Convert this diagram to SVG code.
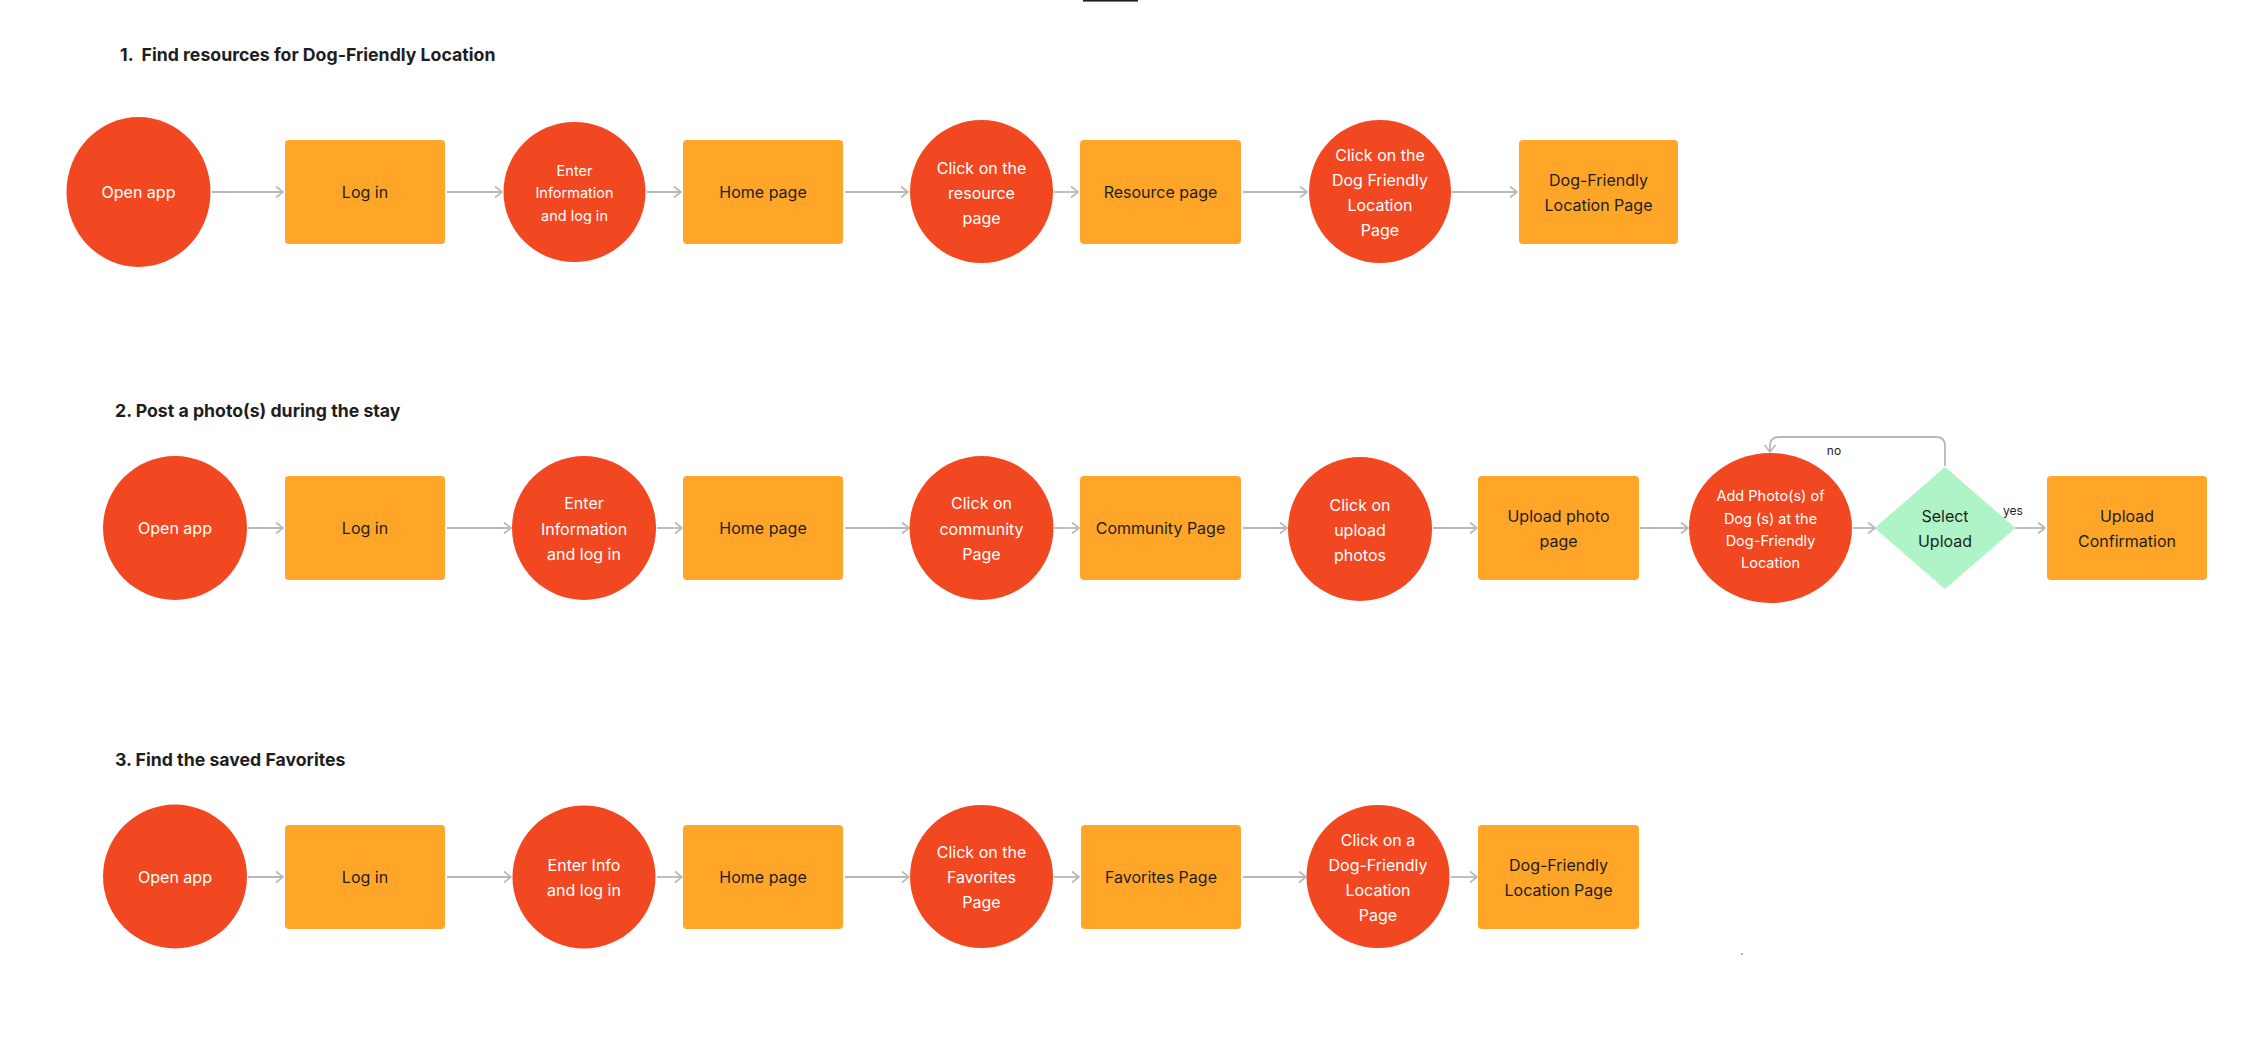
<svg xmlns="http://www.w3.org/2000/svg" width="2248" height="1062" viewBox="0 0 2248 1062">
  <defs>
    <style>
      .bg { fill: #ffffff; }
      .step { fill: #F24822; }
      .page { fill: #FFA629; }
      .decision { fill: #AFF4C6; stroke: #AFF4C6; stroke-width: 3; stroke-linejoin: round; }
      .conn { fill: none; stroke: #B8B8B8; stroke-width: 1.8; }
      text { font-family: Inter, "Liberation Sans", sans-serif; text-anchor: middle; dominant-baseline: central; }
      .wt { fill: #ffffff; font-size: 16px; }
      .wts { fill: #ffffff; font-size: 14.5px; }
      .dt { fill: #1E1E1E; font-size: 16px; }
      .lbl { fill: #1E1E1E; font-size: 12px; }
      .title { fill: #1E1E1E; font-size: 17.7px; font-weight: 700; text-anchor: start; dominant-baseline: alphabetic; }
    </style>
    <marker id="arrow" markerUnits="userSpaceOnUse" markerWidth="12" markerHeight="14" refX="9" refY="7" orient="auto">
      <path d="M2,1.5 L9,7 L2,12.5" fill="none" stroke="#B8B8B8" stroke-width="1.6"/>
    </marker>
  </defs>
  <rect class="bg" x="0" y="0" width="2248" height="1062"/>
  <rect x="1083" y="0" width="55" height="1.6" fill="#1E1E1E"/>
  <circle cx="1742" cy="954" r="1" fill="#9A9A9A"/>

  <!-- Titles -->
  <g id="title-1"><text class="title" x="120" y="61">1.<tspan dx="8">Find resources for Dog-Friendly Location</tspan></text></g>
  <g id="title-2"><text class="title" x="115" y="417">2. Post a photo(s) during the stay</text></g>
  <g id="title-3"><text class="title" x="115" y="766">3. Find the saved Favorites</text></g>

  <!-- Connectors -->
  <g id="connectors">
    <!-- row 1 -->
    <line class="conn" x1="212" y1="192" x2="283" y2="192" marker-end="url(#arrow)"/>
    <line class="conn" x1="447" y1="192" x2="502" y2="192" marker-end="url(#arrow)"/>
    <line class="conn" x1="647" y1="192" x2="681" y2="192" marker-end="url(#arrow)"/>
    <line class="conn" x1="845" y1="192" x2="908" y2="192" marker-end="url(#arrow)"/>
    <line class="conn" x1="1054" y1="192" x2="1078" y2="192" marker-end="url(#arrow)"/>
    <line class="conn" x1="1243" y1="192" x2="1307" y2="192" marker-end="url(#arrow)"/>
    <line class="conn" x1="1452" y1="192" x2="1517" y2="192" marker-end="url(#arrow)"/>
    <!-- row 2 -->
    <line class="conn" x1="248" y1="528" x2="283" y2="528" marker-end="url(#arrow)"/>
    <line class="conn" x1="447" y1="528" x2="511" y2="528" marker-end="url(#arrow)"/>
    <line class="conn" x1="657" y1="528" x2="682" y2="528" marker-end="url(#arrow)"/>
    <line class="conn" x1="845" y1="528" x2="909" y2="528" marker-end="url(#arrow)"/>
    <line class="conn" x1="1054" y1="528" x2="1079" y2="528" marker-end="url(#arrow)"/>
    <line class="conn" x1="1243" y1="528" x2="1287" y2="528" marker-end="url(#arrow)"/>
    <line class="conn" x1="1433" y1="528" x2="1477" y2="528" marker-end="url(#arrow)"/>
    <line class="conn" x1="1640" y1="528" x2="1688" y2="528" marker-end="url(#arrow)"/>
    <line class="conn" x1="1853" y1="528" x2="1875" y2="528" marker-end="url(#arrow)"/>
    <line class="conn" x1="2015" y1="528" x2="2045" y2="528" marker-end="url(#arrow)"/>
    <path class="conn" d="M1945,466 V446 Q1945,437 1936,437 H1779 Q1770,437 1770,446 V452" marker-end="url(#arrow)"/>
    <text class="lbl" x="1834" y="450">no</text>
    <text class="lbl" x="2013" y="510">yes</text>
    <!-- row 3 -->
    <line class="conn" x1="248" y1="877" x2="283" y2="877" marker-end="url(#arrow)"/>
    <line class="conn" x1="447" y1="877" x2="511" y2="877" marker-end="url(#arrow)"/>
    <line class="conn" x1="657" y1="877" x2="682" y2="877" marker-end="url(#arrow)"/>
    <line class="conn" x1="845" y1="877" x2="909" y2="877" marker-end="url(#arrow)"/>
    <line class="conn" x1="1054" y1="877" x2="1079" y2="877" marker-end="url(#arrow)"/>
    <line class="conn" x1="1243" y1="877" x2="1306" y2="877" marker-end="url(#arrow)"/>
    <line class="conn" x1="1451" y1="877" x2="1477" y2="877" marker-end="url(#arrow)"/>
  </g>

  <!-- Row 1 -->
  <g id="r1-open-app"><ellipse class="step" cx="138.5" cy="192" rx="72" ry="75"/><text class="wt" x="138.5" y="192">Open app</text></g>
  <g id="r1-log-in"><rect class="page" x="285" y="140" width="160" height="104" rx="4"/><text class="dt" x="365" y="192">Log in</text></g>
  <g id="r1-enter-info"><ellipse class="step" cx="574.5" cy="192" rx="71" ry="70"/>
    <text class="wts" x="574.5" y="170">Enter</text><text class="wts" x="574.5" y="192.5">Information</text><text class="wts" x="574.5" y="215">and log in</text></g>
  <g id="r1-home"><rect class="page" x="683" y="140" width="160" height="104" rx="4"/><text class="dt" x="763" y="192">Home page</text></g>
  <g id="r1-click-resource"><ellipse class="step" cx="981.5" cy="191.5" rx="71.5" ry="71.5"/>
    <text class="wt" x="981.5" y="168">Click on the</text><text class="wt" x="981.5" y="193">resource</text><text class="wt" x="981.5" y="218">page</text></g>
  <g id="r1-resource-page"><rect class="page" x="1080" y="140" width="161" height="104" rx="4"/><text class="dt" x="1160.5" y="192">Resource page</text></g>
  <g id="r1-click-dfl"><ellipse class="step" cx="1380" cy="191.5" rx="71" ry="71.5"/>
    <text class="wt" x="1380" y="155">Click on the</text><text class="wt" x="1380" y="180">Dog Friendly</text><text class="wt" x="1380" y="205">Location</text><text class="wt" x="1380" y="230">Page</text></g>
  <g id="r1-dfl-page"><rect class="page" x="1519" y="140" width="159" height="104" rx="4"/>
    <text class="dt" x="1598.5" y="180">Dog-Friendly</text><text class="dt" x="1598.5" y="205">Location Page</text></g>

  <!-- Row 2 -->
  <g id="r2-open-app"><circle class="step" cx="175" cy="528" r="72"/><text class="wt" x="175" y="528">Open app</text></g>
  <g id="r2-log-in"><rect class="page" x="285" y="476" width="160" height="104" rx="4"/><text class="dt" x="365" y="528">Log in</text></g>
  <g id="r2-enter-info"><circle class="step" cx="584" cy="528" r="72"/>
    <text class="wt" x="584" y="503">Enter</text><text class="wt" x="584" y="529">Information</text><text class="wt" x="584" y="554">and log in</text></g>
  <g id="r2-home"><rect class="page" x="683" y="476" width="160" height="104" rx="4"/><text class="dt" x="763" y="528">Home page</text></g>
  <g id="r2-click-community"><circle class="step" cx="981.5" cy="528" r="72"/>
    <text class="wt" x="981.5" y="503">Click on</text><text class="wt" x="981.5" y="529">community</text><text class="wt" x="981.5" y="554">Page</text></g>
  <g id="r2-community-page"><rect class="page" x="1080" y="476" width="161" height="104" rx="4"/><text class="dt" x="1160.5" y="528">Community Page</text></g>
  <g id="r2-click-upload"><circle class="step" cx="1360" cy="529" r="72"/>
    <text class="wt" x="1360" y="505">Click on</text><text class="wt" x="1360" y="530">upload</text><text class="wt" x="1360" y="555">photos</text></g>
  <g id="r2-upload-page"><rect class="page" x="1478" y="476" width="161" height="104" rx="4"/>
    <text class="dt" x="1558.5" y="516">Upload photo</text><text class="dt" x="1558.5" y="541">page</text></g>
  <g id="r2-add-photos"><ellipse class="step" cx="1770.5" cy="528" rx="81.5" ry="75"/>
    <text class="wts" x="1770.5" y="495">Add Photo(s) of</text><text class="wts" x="1770.5" y="518">Dog (s) at the</text><text class="wts" x="1770.5" y="540">Dog-Friendly</text><text class="wts" x="1770.5" y="562">Location</text></g>
  <g id="r2-select-upload"><polygon class="decision" points="1945,469 2013,528 1945,587 1877,528"/>
    <text class="dt" x="1945" y="516">Select</text><text class="dt" x="1945" y="541">Upload</text></g>
  <g id="r2-upload-confirmation"><rect class="page" x="2047" y="476" width="160" height="104" rx="4"/>
    <text class="dt" x="2127" y="516">Upload</text><text class="dt" x="2127" y="541">Confirmation</text></g>

  <!-- Row 3 -->
  <g id="r3-open-app"><circle class="step" cx="175" cy="876.5" r="72"/><text class="wt" x="175" y="877">Open app</text></g>
  <g id="r3-log-in"><rect class="page" x="285" y="825" width="160" height="104" rx="4"/><text class="dt" x="365" y="877">Log in</text></g>
  <g id="r3-enter-info"><circle class="step" cx="584" cy="877" r="71.5"/>
    <text class="wt" x="584" y="865">Enter Info</text><text class="wt" x="584" y="890">and log in</text></g>
  <g id="r3-home"><rect class="page" x="683" y="825" width="160" height="104" rx="4"/><text class="dt" x="763" y="877">Home page</text></g>
  <g id="r3-click-favorites"><circle class="step" cx="981.5" cy="876.5" r="71.5"/>
    <text class="wt" x="981.5" y="852">Click on the</text><text class="wt" x="981.5" y="877">Favorites</text><text class="wt" x="981.5" y="902">Page</text></g>
  <g id="r3-favorites-page"><rect class="page" x="1081" y="825" width="160" height="104" rx="4"/><text class="dt" x="1161" y="877">Favorites Page</text></g>
  <g id="r3-click-dfl"><circle class="step" cx="1378" cy="876.5" r="71.5"/>
    <text class="wt" x="1378" y="840">Click on a</text><text class="wt" x="1378" y="865">Dog-Friendly</text><text class="wt" x="1378" y="890">Location</text><text class="wt" x="1378" y="915">Page</text></g>
  <g id="r3-dfl-page"><rect class="page" x="1478" y="825" width="161" height="104" rx="4"/>
    <text class="dt" x="1558.5" y="865">Dog-Friendly</text><text class="dt" x="1558.5" y="890">Location Page</text></g>
</svg>
